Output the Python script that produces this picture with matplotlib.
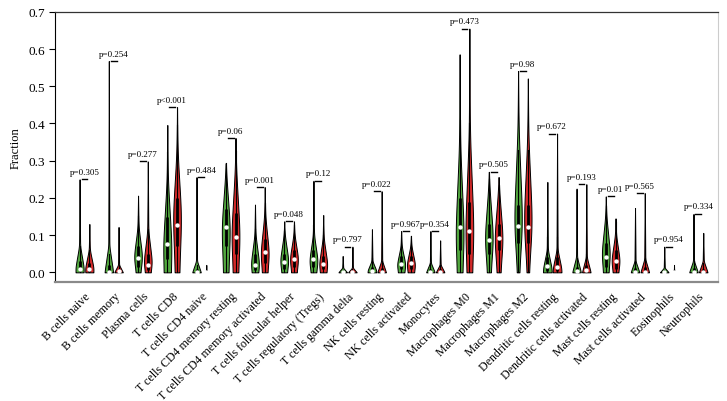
import numpy as np
import matplotlib
matplotlib.use("Agg")
import matplotlib.pyplot as plt

plt.rcParams['font.family'] = ['Liberation Serif', 'DejaVu Serif']

# cell types (x axis)
cells = ["B cells naive", "B cells memory", "Plasma cells", "T cells CD8",
         "T cells CD4 naive", "T cells CD4 memory resting",
         "T cells CD4 memory activated", "T cells follicular helper",
         "T cells regulatory (Tregs)", "T cells gamma delta", "NK cells resting",
         "NK cells activated", "Monocytes", "Macrophages M0", "Macrophages M1",
         "Macrophages M2", "Dendritic cells resting", "Dendritic cells activated",
         "Mast cells resting", "Mast cells activated", "Eosinophils", "Neutrophils"]

# wilcoxon p values (0 means < 0.001)
pvals = [0.305, 0.254, 0.277, 0.0, 0.484, 0.06, 0.001, 0.048, 0.12, 0.797, 0.022,
         0.967, 0.354, 0.473, 0.505, 0.98, 0.672, 0.193, 0.01, 0.565, 0.954, 0.334]

# normal (green) group
green_max = [0.25, 0.568, 0.206, 0.396, 0.256, 0.293, 0.182, 0.137, 0.246, 0.044, 0.116,
             0.111, 0.111, 0.586, 0.270, 0.541, 0.243, 0.225, 0.204, 0.173, 0.069, 0.157]
green_med = [0.010, 0.002, 0.039, 0.075, 0.002, 0.122, 0.020, 0.027, 0.035, 0.0, 0.004,
             0.022, 0.002, 0.121, 0.087, 0.125, 0.017, 0.003, 0.041, 0.0, 0.0, 0.0]
green_q1 = [0.003, 0.0, 0.015, 0.035, 0.0, 0.07, 0.005, 0.01, 0.015, 0.0, 0.0,
            0.008, 0.0, 0.06, 0.05, 0.08, 0.003, 0.0, 0.015, 0.0, 0.0, 0.0]
green_q3 = [0.03, 0.02, 0.07, 0.15, 0.008, 0.17, 0.05, 0.05, 0.06, 0.003, 0.015,
            0.045, 0.01, 0.2, 0.13, 0.18, 0.04, 0.015, 0.08, 0.012, 0.002, 0.012]
# violin outline: (width at 0, height of widest point, height where it gets thin, scale)
green_shape = [(0.9, 0.01, 0.07, 1), (1, 0, 0.07, 1), (0.5, 0.04, 0.12, 1), (0.8, 0.07, 0.25, 1),
               (1, 0, 0.03, 1), (0.6, 0.12, 0.26, 1), (0.7, 0.02, 0.10, 1), (0.6, 0.03, 0.10, 1),
               (0.6, 0.03, 0.10, 1), (1, 0, 0.012, 1), (1, 0.005, 0.03, 1), (0.7, 0.02, 0.07, 1),
               (1, 0, 0.025, 1), (0.6, 0.10, 0.34, 1), (0.4, 0.09, 0.23, 1), (0.2, 0.13, 0.38, 1),
               (1, 0.01, 0.06, 1), (1, 0, 0.04, 1), (0.6, 0.05, 0.15, 1), (1, 0, 0.03, 1),
               (1, 0, 0.012, 1), (1, 0, 0.03, 1)]

# tumor (red) group
red_max = [0.13, 0.122, 0.298, 0.444, 0.02, 0.361, 0.229, 0.137, 0.154, 0.069, 0.218,
           0.098, 0.086, 0.655, 0.256, 0.521, 0.373, 0.237, 0.145, 0.213, 0.02, 0.106]
red_med = [0.008, 0.003, 0.020, 0.128, 0.0, 0.096, 0.054, 0.035, 0.023, 0.0, 0.002,
           0.026, 0.002, 0.111, 0.092, 0.121, 0.015, 0.005, 0.030, 0.0, 0.0, 0.0]
red_q1 = [0.002, 0.0, 0.006, 0.07, 0.0, 0.05, 0.025, 0.015, 0.008, 0.0, 0.0,
          0.01, 0.0, 0.05, 0.06, 0.08, 0.003, 0.0, 0.01, 0.0, 0.0, 0.0]
red_q3 = [0.025, 0.008, 0.05, 0.2, 0.0, 0.16, 0.09, 0.06, 0.045, 0.004, 0.012,
          0.045, 0.008, 0.19, 0.13, 0.18, 0.04, 0.02, 0.06, 0.015, 0.0, 0.01]
red_shape = [(0.9, 0.01, 0.06, 1), (1, 0, 0.02, 1), (0.6, 0.025, 0.11, 1), (0.5, 0.15, 0.32, 1),
             (1, 0, 0.01, 0.15), (0.6, 0.10, 0.28, 1), (0.6, 0.05, 0.15, 1), (0.6, 0.035, 0.10, 1),
             (0.7, 0.02, 0.09, 1), (1, 0, 0.012, 1), (1, 0, 0.03, 1), (0.7, 0.02, 0.07, 1),
             (1, 0, 0.02, 1), (0.6, 0.11, 0.37, 1), (0.4, 0.09, 0.22, 1), (0.2, 0.13, 0.36, 1),
             (1, 0.01, 0.06, 1), (1, 0, 0.04, 1), (0.6, 0.03, 0.10, 1), (1, 0, 0.035, 1),
             (1, 0, 0.01, 0.15), (1, 0, 0.03, 1)]

GREEN = '#52a83f'
RED = '#d42a2a'


def violin(ax, x, vmax, med, q1, q3, shape, color):
    base, peak, neck, scale = shape
    if peak <= 0:
        ky, kw = [0, neck, vmax], [1.0, 0.12, 0.0]
    else:
        ky, kw = [0, peak, neck, vmax], [base, 1.0, 0.12, 0.0]
    n = 400
    ys = np.linspace(0, vmax, n)
    w = np.interp(ys, ky, kw)
    # soften the corners of the outline a little
    sig = max(0.12 * neck / vmax * n, 1.0)
    k = np.exp(-0.5 * (np.arange(-int(3 * sig), int(3 * sig) + 1) / sig) ** 2)
    k /= k.sum()
    pad = len(k) // 2
    wp = np.concatenate([np.full(pad, w[0]), w, np.zeros(pad)])
    w = np.convolve(wp, k, mode='valid')
    w = w * 0.45 * scale
    ax.fill_betweenx(ys, x - w, x + w, facecolor=color, edgecolor='black', lw=0.7, zorder=2)
    upper = min(vmax, q3 + 1.5 * (q3 - q1))
    ax.plot([x, x], [0, upper], color='black', lw=0.8, zorder=3)
    ax.plot([x, x], [q1, q3], color='black', lw=2.0, solid_capstyle='butt', zorder=3)
    ax.scatter([x], [med], s=10, color='white', zorder=4, linewidths=0)


fig = plt.figure(figsize=(7.27, 4.02), dpi=100)
ax = fig.add_axes([0.0757, 0.296, 0.912, 0.672])

for i, name in enumerate(cells):
    xg = 3 * i
    xr = 3 * i + 1
    violin(ax, xg, green_max[i], green_med[i], green_q1[i], green_q3[i], green_shape[i], GREEN)
    violin(ax, xr, red_max[i], red_med[i], red_q1[i], red_q3[i], red_shape[i], RED)
    mx = max(green_max[i], red_max[i])
    ax.plot([xg + 0.2, xg + 0.8], [mx, mx], color='black', lw=1, zorder=3)
    p = pvals[i]
    lab = "p<0.001" if p < 0.001 else "p=" + f"{round(p, 3):g}"
    ax.text(xg + 0.5, mx + 0.02, lab, ha='center', va='center', fontsize=6.5)

ax.set_xlim(-2.52, 65.52)
ax.set_ylim(-0.026, 0.70)
ax.set_xticks([3 * i + 0.5 for i in range(len(cells))])
ax.set_xticklabels([])
ax.tick_params(axis='x', length=0)
for i, name in enumerate(cells):
    ax.text(3 * i + 0.5, -0.03, name, transform=ax.get_xaxis_transform(),
            rotation=45, ha='right', va='top', rotation_mode='anchor', fontsize=8.6)

ax.set_yticks(np.arange(0, 0.71, 0.1))
ax.set_yticklabels([f"{v:.1f}" for v in np.arange(0, 0.71, 0.1)])
ax.tick_params(axis='y', direction='out', length=4, width=0.8, labelsize=9.5, pad=3)
ax.set_ylabel("Fraction", fontsize=9, labelpad=5)

ax.spines['left'].set_color('black')
ax.spines['left'].set_linewidth(0.8)
ax.spines['top'].set_color('#333333')
ax.spines['top'].set_linewidth(0.9)
ax.spines['right'].set_color('#cccccc')
ax.spines['right'].set_linewidth(0.8)
ax.spines['bottom'].set_color('#8a8a8a')
ax.spines['bottom'].set_linewidth(1.6)

fig.savefig("out.png", dpi=100)
